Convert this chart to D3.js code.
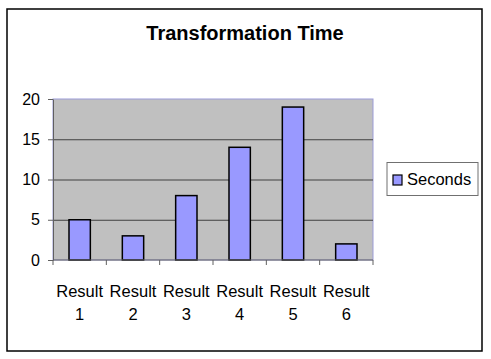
<!DOCTYPE html>
<html>
<head>
<meta charset="utf-8">
<script src="https://cdn.jsdelivr.net/npm/d3@7"></script>
<style>
  body { margin: 0; background: #fff; }
  text { font-family: Arial, "Liberation Sans", sans-serif; }
</style>
</head>
<body>
<div id="chart"></div>
<script>
const categories = ["Result 1", "Result 2", "Result 3", "Result 4", "Result 5", "Result 6"];
const seconds = [5, 3, 8, 14, 19, 2];
const yTicks = [0, 5, 10, 15, 20];
const seriesName = "Seconds";
const title = "Transformation Time";

const W = 491, H = 359;
const plot = { left: 53, top: 99, right: 373, bottom: 260 };

const svg = d3.select('#chart')
    .append('svg')
    .attr('width', W)
    .attr('height', H);

// outer frame
svg.append('rect')
    .attr('x', 7).attr('y', 9)
    .attr('width', 475).attr('height', 342)
    .attr('fill', '#fff')
    .attr('stroke', '#000')
    .attr('stroke-width', 1.5);

// scales
const xScale = d3.scaleBand()
    .domain(categories)
    .range([plot.left, plot.right])
    .paddingInner(0.6)
    .paddingOuter(0.3);

const xBand = d3.scaleBand()
    .domain(categories)
    .range([plot.left, plot.right]);

const yScale = d3.scaleLinear()
    .domain([0, 20])
    .range([plot.bottom, plot.top]);

// plot background
svg.append('rect')
    .attr('x', plot.left).attr('y', plot.top)
    .attr('width', plot.right - plot.left)
    .attr('height', plot.bottom - plot.top)
    .attr('fill', '#c0c0c0')
    .attr('stroke', '#9c9cd8')
    .attr('stroke-width', 1);

// gridlines
svg.append('g')
    .attr('transform', `translate(${plot.left},0)`)
    .call(d3.axisLeft(yScale).tickValues(yTicks.slice(1, -1))
        .tickSize(-(plot.right - plot.left)).tickFormat(''))
    .call(g => g.select('.domain').remove())
    .selectAll('line')
    .attr('stroke', '#404040');

// bars
svg.selectAll('rect.bar')
    .data(seconds)
    .enter()
    .append('rect')
    .attr('class', 'bar')
    .attr('x', (d, i) => xScale(categories[i]))
    .attr('y', d => yScale(d))
    .attr('width', xScale.bandwidth())
    .attr('height', d => yScale(0) - yScale(d))
    .attr('fill', '#9999ff')
    .attr('stroke', '#000')
    .attr('stroke-width', 1.5);

// y axis
const yAxis = svg.append('g')
    .attr('transform', `translate(${plot.left},0)`)
    .call(d3.axisLeft(yScale).tickValues(yTicks).tickSize(5).tickPadding(8).tickSizeOuter(0));
yAxis.select('.domain').attr('stroke', '#606060');
yAxis.selectAll('line').attr('stroke', '#606060');
yAxis.selectAll('text')
    .style('font-size', '16px')
    .attr('fill', '#000');

// x axis: ticks at band boundaries
const xAxisG = svg.append('g')
    .attr('transform', `translate(0,${plot.bottom})`);
xAxisG.append('line')
    .attr('x1', plot.left).attr('x2', plot.right)
    .attr('stroke', '#606060');
xAxisG.selectAll('line.tick')
    .data(categories.concat(['end']))
    .enter()
    .append('line')
    .attr('class', 'tick')
    .attr('x1', (d, i) => i < categories.length ? xBand(d) : plot.right)
    .attr('x2', (d, i) => i < categories.length ? xBand(d) : plot.right)
    .attr('y1', 0).attr('y2', 5)
    .attr('stroke', '#606060');

const labels = xAxisG.selectAll('text.cat')
    .data(categories)
    .enter()
    .append('text')
    .attr('class', 'cat')
    .attr('text-anchor', 'middle')
    .style('font-size', '16.5px')
    .attr('fill', '#000');
labels.each(function(d) {
    const parts = d.split(' ');
    const t = d3.select(this);
    const cx = xBand(d) + xBand.bandwidth() / 2;
    parts.forEach((p, k) => {
        t.append('tspan')
            .attr('x', cx)
            .attr('y', 37 + k * 23)
            .text(p);
    });
});

// title
svg.append('text')
    .attr('x', 245)
    .attr('y', 40)
    .attr('text-anchor', 'middle')
    .style('font-size', '20px')
    .style('font-weight', 'bold')
    .text(title);

// legend
const legend = svg.append('g');
legend.append('rect')
    .attr('x', 387).attr('y', 162.5)
    .attr('width', 91).attr('height', 33)
    .attr('fill', '#fff')
    .attr('stroke', '#707070');
legend.append('rect')
    .attr('x', 393).attr('y', 175)
    .attr('width', 9).attr('height', 10)
    .attr('fill', '#9999ff')
    .attr('stroke', '#000')
    .attr('stroke-width', 1.2);
legend.append('text')
    .attr('x', 407).attr('y', 185)
    .style('font-size', '16.5px')
    .text(seriesName);
</script>
</body>
</html>
